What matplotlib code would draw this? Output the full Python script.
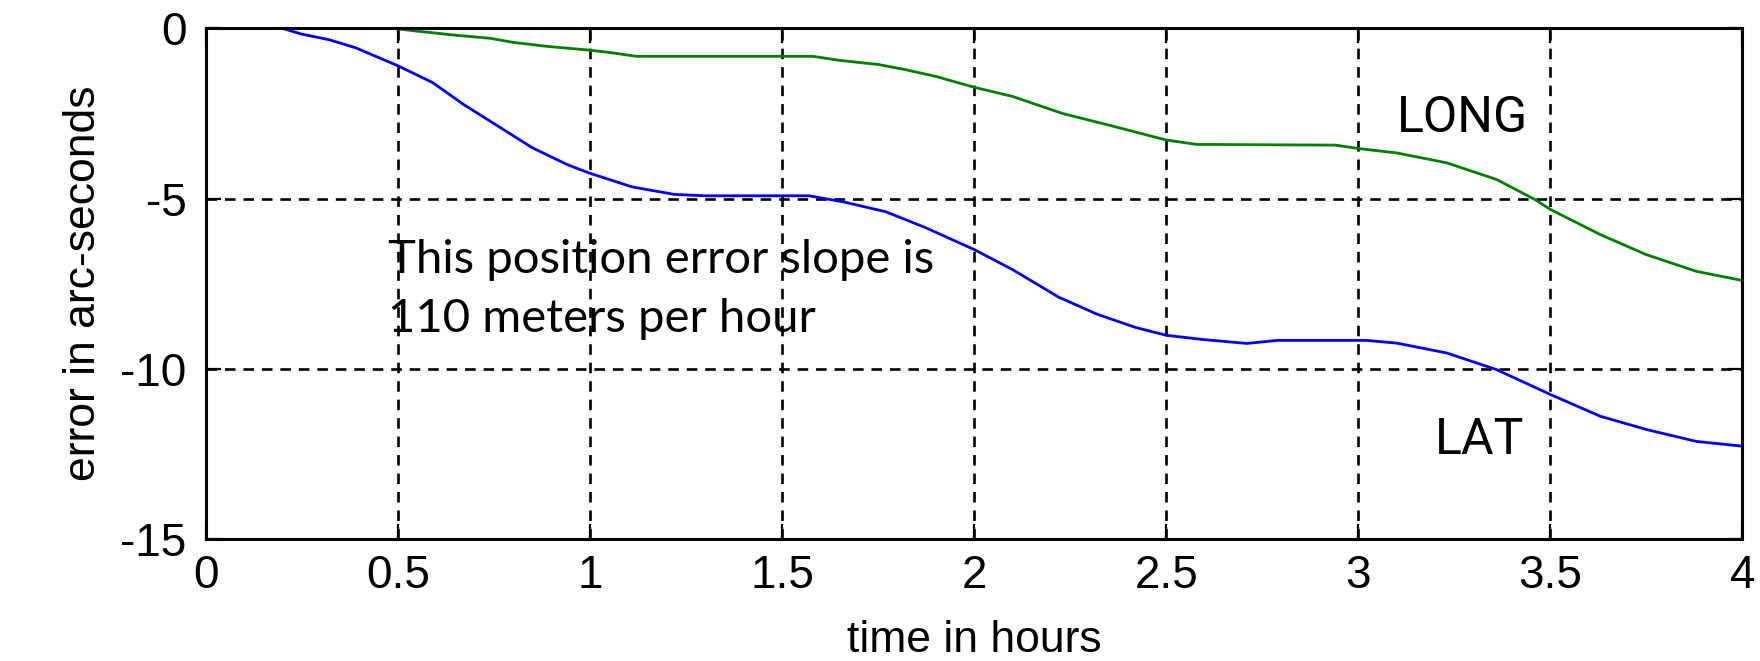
import matplotlib
matplotlib.use("Agg")
import matplotlib.pyplot as plt

# Navigation position error over time (arc-seconds)
time_long = [0, 0.49, 0.55, 0.65, 0.74, 0.8, 0.89, 1.0, 1.06, 1.12, 1.58, 1.65,
             1.75, 1.82, 1.9, 2.0, 2.1, 2.23, 2.36, 2.5, 2.58, 2.94, 3.0, 3.1,
             3.23, 3.36, 3.46, 3.5, 3.63, 3.75, 3.88, 4.0]
long_err = [0, 0, -0.08, -0.2, -0.29, -0.41, -0.53, -0.64, -0.72, -0.82, -0.82, -0.94,
            -1.06, -1.21, -1.41, -1.73, -2.0, -2.5, -2.87, -3.28, -3.41, -3.43, -3.53, -3.66,
            -3.95, -4.44, -5.03, -5.32, -6.06, -6.65, -7.14, -7.41]

time_lat = [0, 0.2, 0.25, 0.32, 0.39, 0.5, 0.59, 0.67, 0.76, 0.85, 0.94, 1.0, 1.11,
            1.22, 1.3, 1.57, 1.66, 1.77, 1.87, 2.0, 2.1, 2.22, 2.32, 2.42, 2.5, 2.6,
            2.71, 2.79, 3.02, 3.1, 3.23, 3.36, 3.5, 3.63, 3.75, 3.88, 4.0]
lat_err = [0, 0, -0.17, -0.33, -0.57, -1.1, -1.59, -2.23, -2.87, -3.51, -4.0, -4.26, -4.66,
           -4.88, -4.92, -4.92, -5.1, -5.39, -5.84, -6.5, -7.09, -7.9, -8.4, -8.79, -9.02, -9.15,
           -9.26, -9.17, -9.17, -9.25, -9.54, -10.03, -10.76, -11.4, -11.79, -12.14, -12.28]

x_ticks = [0, 0.5, 1, 1.5, 2, 2.5, 3, 3.5, 4]
x_tick_labels = ["0", "0.5", "1", "1.5", "2", "2.5", "3", "3.5", "4"]
y_ticks = [0, -5, -10, -15]
y_tick_labels = ["0", "-5", "-10", "-15"]

SANS = ["Liberation Sans", "DejaVu Sans"]
NARROW = ["Roboto", "Liberation Sans", "DejaVu Sans"]
NOTE = ["Lato", "DejaVu Sans"]

fig = plt.figure(figsize=(17.6, 6.61), dpi=100)
ax = fig.add_axes([0.117, 0.185, 0.873, 0.772])

ax.plot(time_lat, lat_err, color="#0000ff", lw=2.0, zorder=3)
ax.plot(time_long, long_err, color="#008000", lw=2.0, zorder=4)

ax.set_xlim(0, 4)
ax.set_ylim(-15, 0)
ax.set_xticks(x_ticks)
ax.set_xticklabels(x_tick_labels, fontfamily=SANS)
ax.set_yticks(y_ticks)
ax.set_yticklabels(y_tick_labels, fontfamily=SANS)

ax.tick_params(direction="in", length=11, width=1.6, top=True, right=True,
               labelsize=33, colors="black")
ax.tick_params(axis="x", pad=11)
ax.tick_params(axis="y", pad=14)

ax.grid(True, color="black", linestyle=(0, (4, 3)), lw=1.9)
ax.set_axisbelow(False)
for s in ax.spines.values():
    s.set_linewidth(2.2)
    s.set_color("black")
    s.set_zorder(5)

ax.set_xlabel("time in hours", fontsize=32, fontfamily=SANS, labelpad=16)
ax.set_ylabel("error in arc-seconds", fontsize=32, fontfamily=SANS, labelpad=12)

ax.text(3.1, -3.03, "LONG", fontsize=36, fontfamily=NARROW, ha="left", va="baseline")
ax.text(3.2, -12.5, "LAT", fontsize=36, fontfamily=NARROW, ha="left", va="baseline")

ax.text(0.475, -7.18, "This position error slope is", fontsize=34,
        fontfamily=NOTE, ha="left", va="baseline", zorder=6)
ax.text(0.475, -8.92, "110 meters per hour", fontsize=34,
        fontfamily=NOTE, ha="left", va="baseline", zorder=6)

fig.savefig("out.png", dpi=100)
